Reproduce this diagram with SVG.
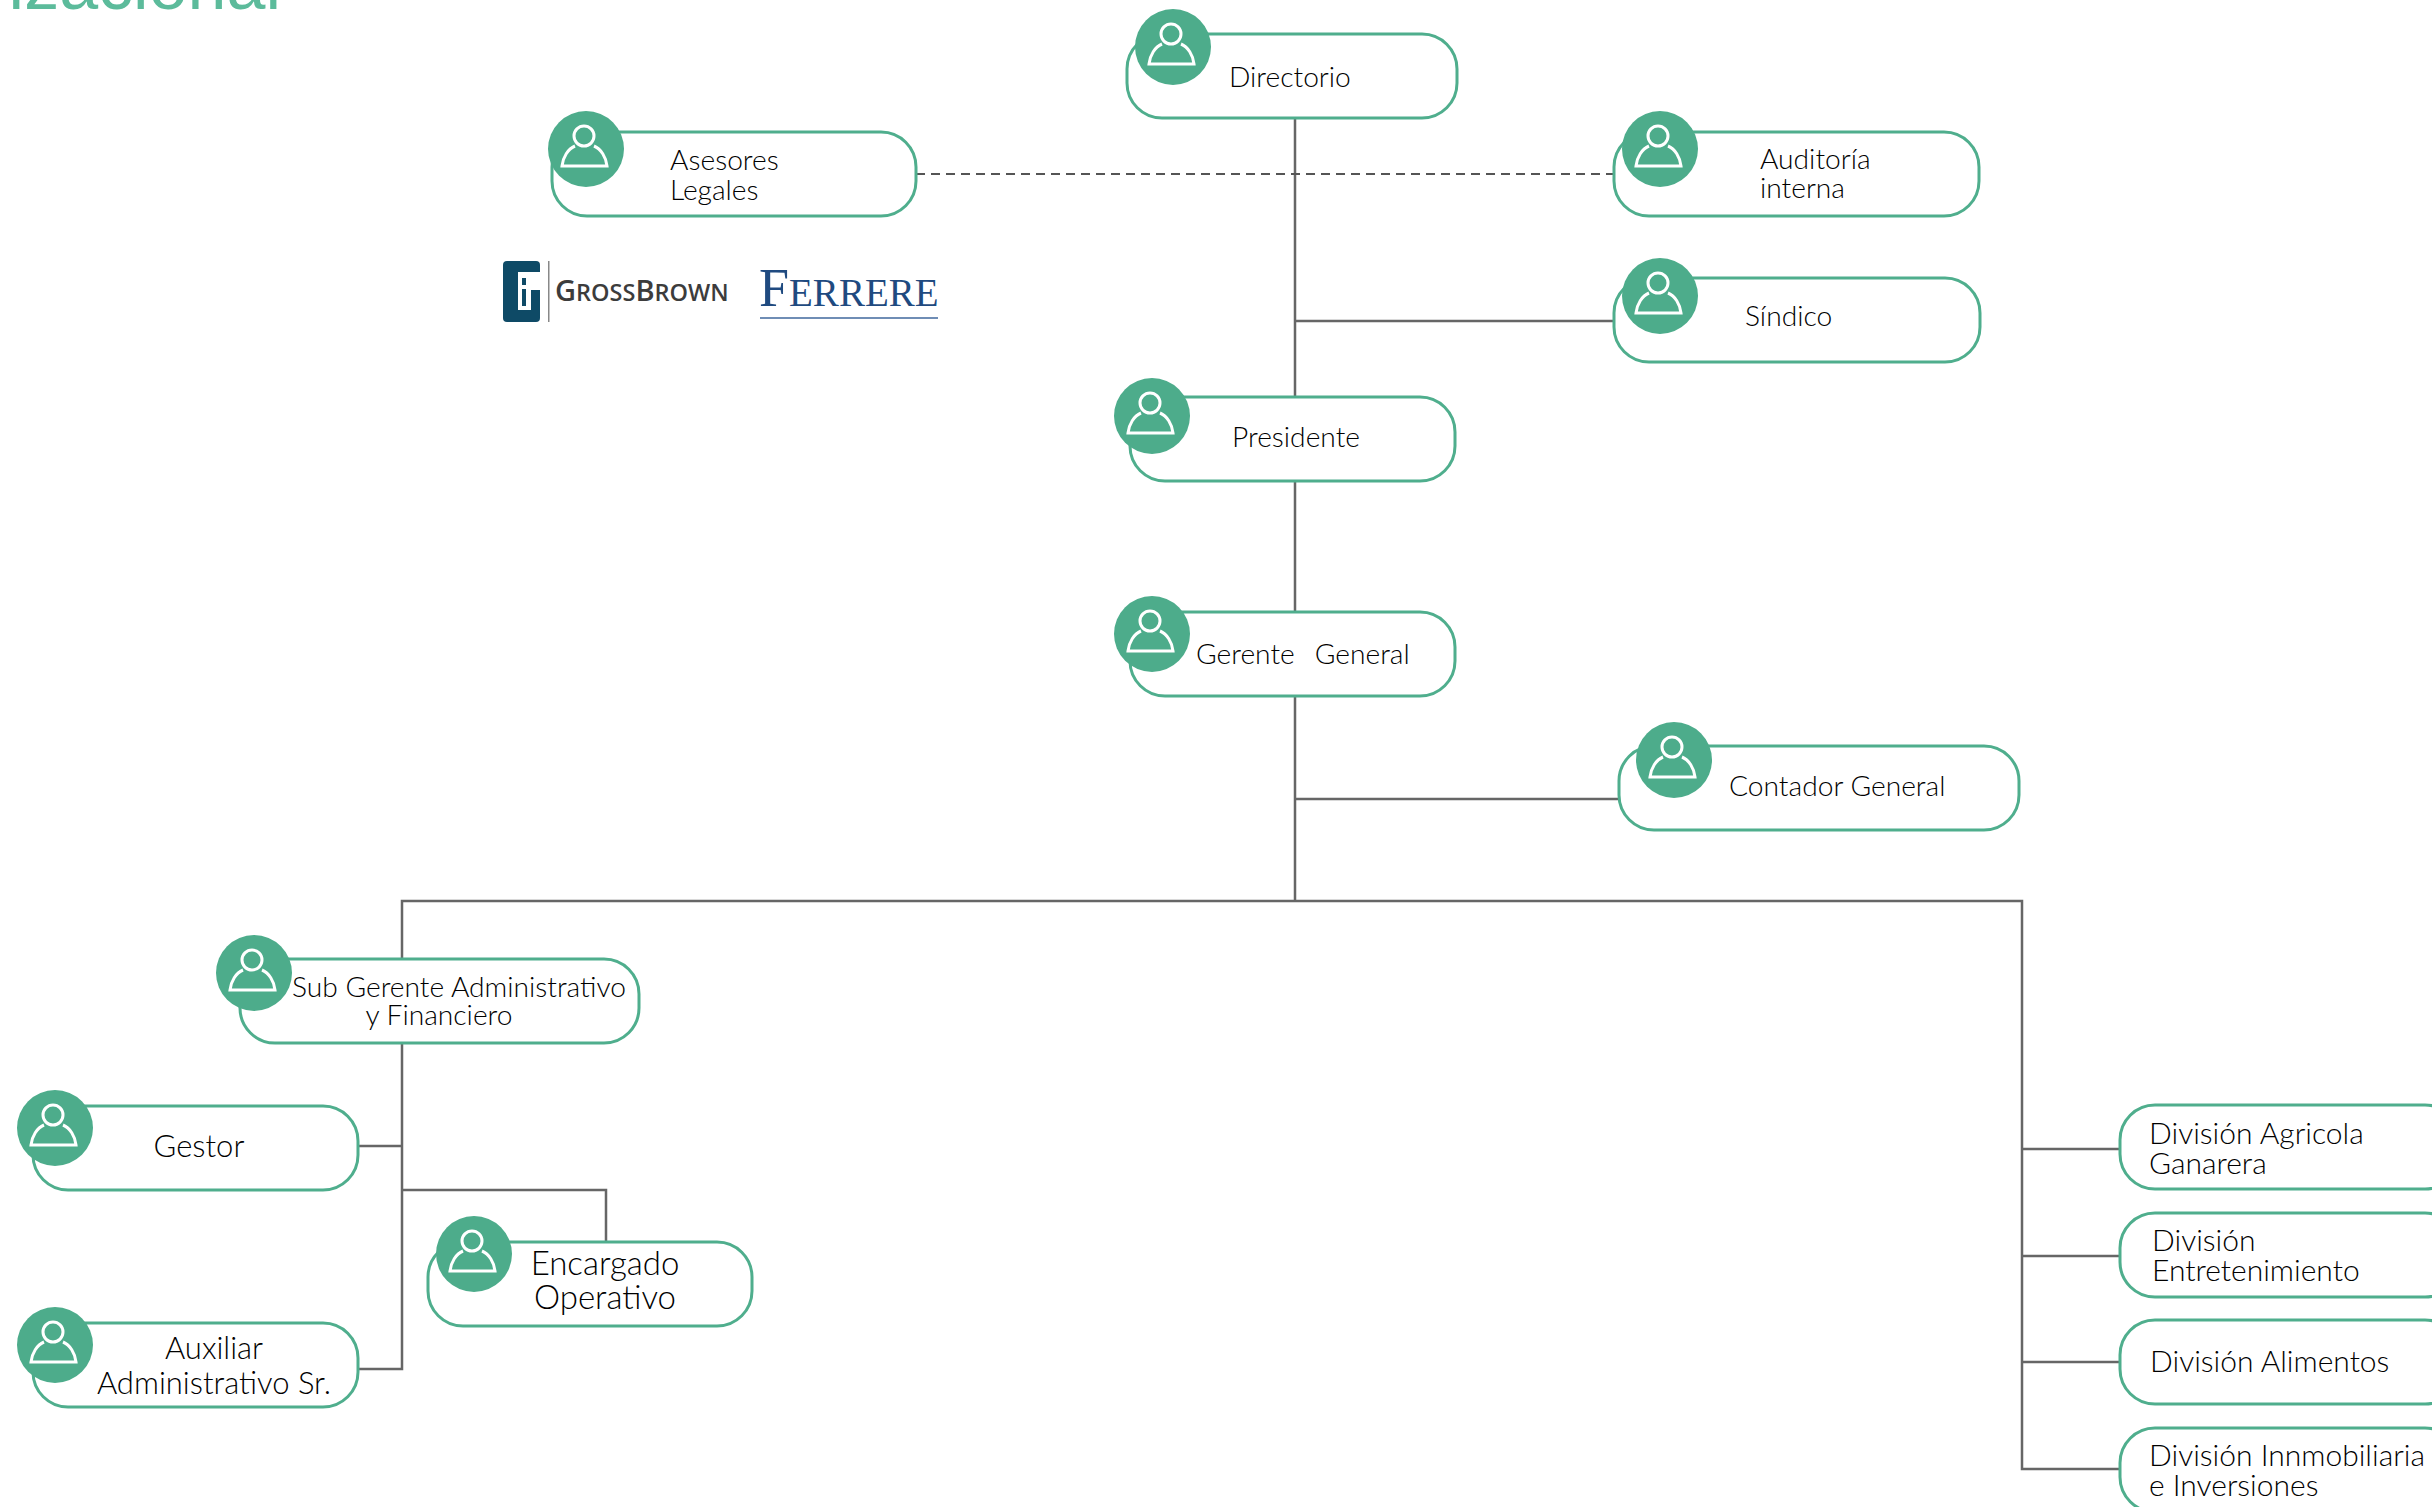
<svg xmlns="http://www.w3.org/2000/svg" width="2432" height="1507" viewBox="0 0 2432 1507">
<style>
.box{fill:#fff;stroke:#4fae8d;stroke-width:3}
.c{fill:#4dac8b}
.ic{fill:none;stroke:#fff;stroke-width:3}
.t{font-family:Lato,"Liberation Sans",sans-serif;font-weight:300;font-size:28.2px;fill:#000}
.big{font-size:31px}
.div{font-size:30px}
.enc{font-size:33px}
.m{text-anchor:middle}
.ln{fill:none;stroke:#666;stroke-width:2.5}
.dash{fill:none;stroke:#555;stroke-width:2;stroke-dasharray:9 6}
</style>
<defs>
<g id="person">
<circle class="c" r="38"/>
<circle class="ic" cx="-2" cy="-13" r="10"/>
<path class="ic" d="M-11,-3C-18,0 -23,8 -24,17H21C20,8 15,0 8,-3"/>
</g>
</defs>
<rect width="2432" height="1507" fill="#fff"/>
<text x="281" y="9" text-anchor="end" font-family="'Liberation Sans',Arial,sans-serif" font-size="70" fill="#5cbb9b">izacional</text>
<g id="connectors">
<path class="ln" d="M1295,118V901M1295,321H1614M1295,799H1619M402,959V901H2022V1469H2119M402,1043V1369H358M358,1146H402M402,1190H606V1242M2022,1149H2119M2022,1256H2119M2022,1362H2119"/>
<path class="dash" d="M916,174H1614"/>
</g>
<g id="n-directorio"><rect class="box" x="1127" y="34" width="330" height="84" rx="35"/><use href="#person" x="1173" y="47"/><text class="t" x="1229" y="87">Directorio</text></g>
<g id="n-asesores"><rect class="box" x="552" y="132" width="364" height="84" rx="35"/><use href="#person" x="586" y="149"/><text class="t" x="670" y="170">Asesores</text><text class="t" x="670" y="200">Legales</text></g>
<g id="n-auditoria"><rect class="box" x="1614" y="132" width="365" height="84" rx="35"/><use href="#person" x="1660" y="149"/><text class="t" x="1760" y="169">Auditoría</text><text class="t" x="1760" y="198">interna</text></g>
<g id="n-sindico"><rect class="box" x="1614" y="278" width="366" height="84" rx="35"/><use href="#person" x="1660" y="296"/><text class="t" x="1745" y="326">Síndico</text></g>
<g id="n-presidente"><rect class="box" x="1130" y="397" width="325" height="84" rx="35"/><use href="#person" x="1152" y="416"/><text class="t" x="1232" y="447">Presidente</text></g>
<g id="n-gerente"><rect class="box" x="1130" y="612" width="325" height="84" rx="35"/><use href="#person" x="1152" y="634"/><text class="t" x="1196" y="664" word-spacing="-1" xml:space="preserve">Gerente   General</text></g>
<g id="n-contador"><rect class="box" x="1619" y="746" width="400" height="84" rx="35"/><use href="#person" x="1674" y="760"/><text class="t" x="1729" y="796">Contador General</text></g>
<g id="n-subgerente"><rect class="box" x="240" y="959" width="399" height="84" rx="35"/><use href="#person" x="254" y="973"/><text class="t" x="292" y="997">Sub Gerente Administrativo</text><text class="t m" x="439" y="1025">y Financiero</text></g>
<g id="n-gestor"><rect class="box" x="33" y="1106" width="325" height="84" rx="35"/><use href="#person" x="55" y="1128"/><text class="t big m" x="199" y="1157">Gestor</text></g>
<g id="n-auxiliar"><rect class="box" x="33" y="1323" width="325" height="84" rx="35"/><use href="#person" x="55" y="1345"/><text class="t big m" x="214" y="1359">Auxiliar</text><text class="t big m" x="214" y="1394">Administrativo Sr.</text></g>
<g id="n-encargado"><rect class="box" x="428" y="1242" width="324" height="84" rx="35"/><use href="#person" x="474" y="1254"/><text class="t enc m" x="605" y="1275">Encargado</text><text class="t enc m" x="605" y="1309">Operativo</text></g>
<g id="n-agricola"><rect class="box" x="2120" y="1105" width="340" height="84" rx="35"/><text class="t div" x="2149" y="1144">División Agricola</text><text class="t div" x="2149" y="1174">Ganarera</text></g>
<g id="n-entretenimiento"><rect class="box" x="2120" y="1213" width="340" height="84" rx="35"/><text class="t div" x="2152" y="1251">División</text><text class="t div" x="2152" y="1281">Entretenimiento</text></g>
<g id="n-alimentos"><rect class="box" x="2120" y="1320" width="340" height="84" rx="35"/><text class="t div" x="2150" y="1372">División Alimentos</text></g>
<g id="n-inmobiliaria"><rect class="box" x="2120" y="1428" width="340" height="84" rx="35"/><text class="t div" x="2149" y="1466">División Innmobiliaria</text><text class="t div" x="2149" y="1496">e Inversiones</text></g>
<g id="logo-grossbrown">
<rect x="503" y="261" width="37" height="61" rx="4" fill="#0e4a66"/>
<path d="M540,272H518V310H531V290H540Z" fill="#fff"/>
<path d="M522,278H526V285H522ZM522,289H526V306H522Z" fill="#0e4a66"/>
<rect x="548" y="261" width="1.5" height="61" fill="#888"/>
<text x="555" y="301" font-family="'Open Sans','Liberation Sans',sans-serif" font-weight="600" font-size="23.5" fill="#3c3c3c"><tspan font-size="29">G</tspan>ROSS<tspan font-size="29">B</tspan>ROWN</text>
</g>
<g id="logo-ferrere">
<text x="759" y="306" font-family="'Liberation Serif',serif" font-size="39" fill="#1f4a80"><tspan font-size="54">F</tspan>ERRERE</text>
<rect x="760" y="317" width="178" height="2" fill="#6f8db5"/>
</g>
</svg>
